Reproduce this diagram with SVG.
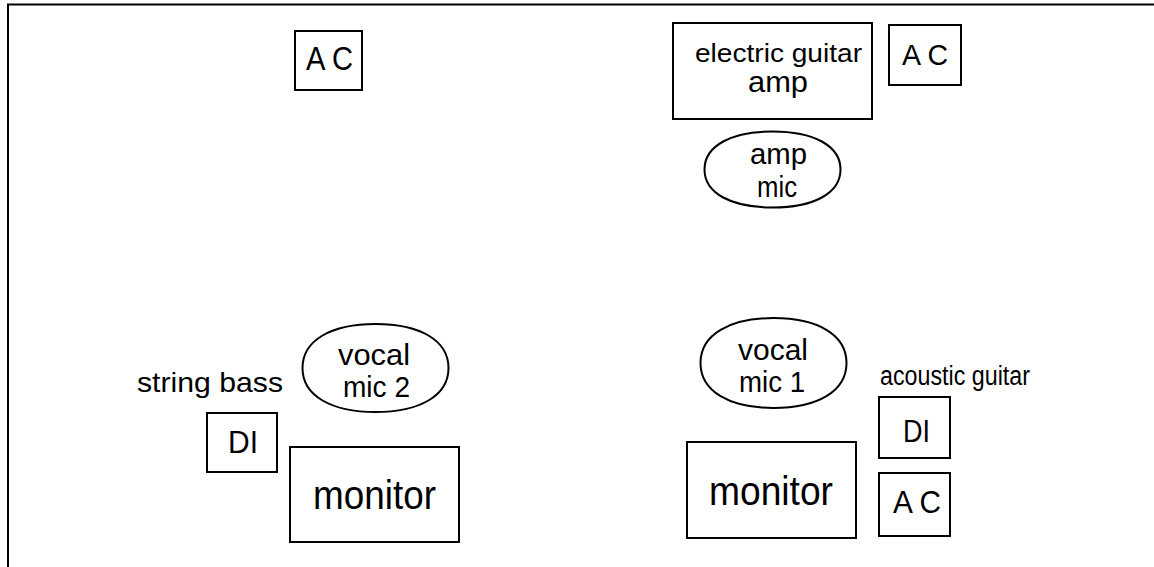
<svg xmlns="http://www.w3.org/2000/svg" width="1154" height="567" viewBox="0 0 1154 567">
<style>
.b{fill:#fff;stroke:#000;stroke-width:2}
.t{font-family:"Liberation Sans",Arial,Helvetica,sans-serif;fill:#000}
</style>
<rect width="1154" height="567" fill="#fff"/>
<path d="M8,567 V4.5 H1154" fill="none" stroke="#000" stroke-width="2"/>
<g id="connectors"/>
<g id="ac1">
<rect class="b" x="295" y="31" width="67" height="59"/>
<text class="t" x="306" y="70" font-size="33" textLength="47" lengthAdjust="spacingAndGlyphs">A C</text>
</g>
<g id="guitar-amp">
<rect class="b" x="673" y="23" width="199" height="96"/>
<text class="t" x="695" y="62" font-size="26" textLength="167" lengthAdjust="spacingAndGlyphs">electric guitar</text>
<text class="t" x="748" y="92" font-size="29" textLength="60" lengthAdjust="spacingAndGlyphs">amp</text>
</g>
<g id="ac2">
<rect class="b" x="889" y="25" width="72" height="60"/>
<text class="t" x="902" y="65" font-size="30" textLength="46" lengthAdjust="spacingAndGlyphs">A C</text>
</g>
<g id="amp-mic">
<path class="b" d="M704.5,169.5 C704.5,145.5 731.7,131.5 772.5,131.5 C813.3,131.5 840.5,145.5 840.5,169.5 C840.5,193.5 813.3,207.5 772.5,207.5 C731.7,207.5 704.5,193.5 704.5,169.5 Z"/>
<text class="t" x="750" y="164" font-size="29" textLength="57" lengthAdjust="spacingAndGlyphs">amp</text>
<text class="t" x="757" y="197" font-size="29" textLength="40" lengthAdjust="spacingAndGlyphs">mic</text>
</g>
<g id="vocal-mic-2">
<path class="b" d="M302.5,368 C302.5,340 331.7,324 375.5,324 C419.3,324 448.5,340 448.5,368 C448.5,396 419.3,412 375.5,412 C331.7,412 302.5,396 302.5,368 Z"/>
<text class="t" x="338" y="365" font-size="30" textLength="72" lengthAdjust="spacingAndGlyphs">vocal</text>
<text class="t" x="343" y="397" font-size="30" textLength="67" lengthAdjust="spacingAndGlyphs">mic 2</text>
</g>
<g id="string-bass">
<text class="t" x="137" y="392" font-size="28" textLength="146" lengthAdjust="spacingAndGlyphs">string bass</text>
<rect class="b" x="207" y="413" width="70" height="59"/>
<text class="t" x="228" y="453" font-size="32" textLength="30" lengthAdjust="spacingAndGlyphs">DI</text>
</g>
<g id="monitor-2">
<rect class="b" x="290" y="447" width="169" height="95"/>
<text class="t" x="313" y="509" font-size="41" textLength="123" lengthAdjust="spacingAndGlyphs">monitor</text>
</g>
<g id="vocal-mic-1">
<path class="b" d="M700.5,363 C700.5,334.5 729.7,318 773.5,318 C817.3,318 846.5,334.5 846.5,363 C846.5,391.5 817.3,408 773.5,408 C729.7,408 700.5,391.5 700.5,363 Z"/>
<text class="t" x="738" y="360" font-size="30" textLength="70" lengthAdjust="spacingAndGlyphs">vocal</text>
<text class="t" x="739" y="392" font-size="30" textLength="66" lengthAdjust="spacingAndGlyphs">mic 1</text>
</g>
<g id="acoustic-guitar">
<text class="t" x="880" y="385" font-size="27" textLength="150" lengthAdjust="spacingAndGlyphs">acoustic guitar</text>
<rect class="b" x="879" y="397" width="71" height="61"/>
<text class="t" x="903" y="442" font-size="32" textLength="27" lengthAdjust="spacingAndGlyphs">DI</text>
</g>
<g id="ac3">
<rect class="b" x="879" y="473" width="71" height="63"/>
<text class="t" x="893" y="513" font-size="32" textLength="48" lengthAdjust="spacingAndGlyphs">A C</text>
</g>
<g id="monitor-1">
<rect class="b" x="687" y="442" width="169" height="96"/>
<text class="t" x="709" y="505" font-size="41" textLength="124" lengthAdjust="spacingAndGlyphs">monitor</text>
</g>
</svg>
